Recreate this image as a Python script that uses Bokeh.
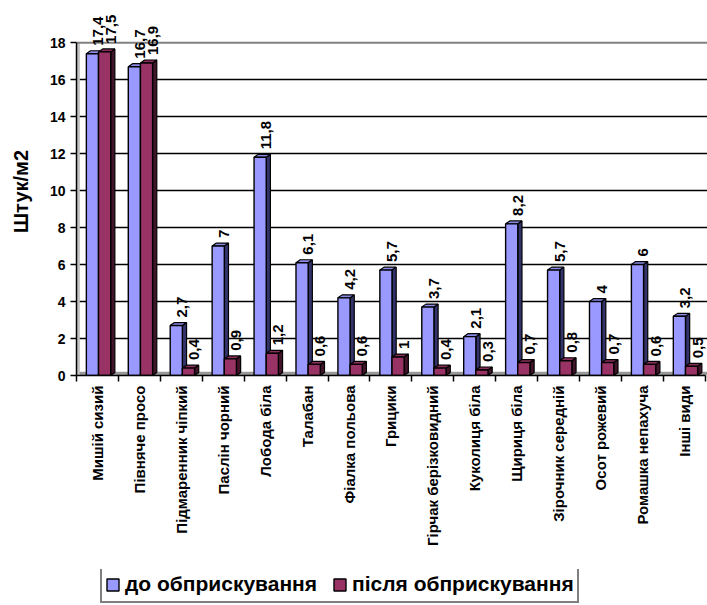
from math import pi
from bokeh.plotting import figure
from bokeh.layouts import column
from bokeh.core.properties import value
from bokeh.models import (ColumnDataSource, FixedTicker, LabelSet, Legend, LegendItem,
                          Span, BoxAnnotation, Range1d)
from bokeh.embed import file_html
from bokeh.resources import INLINE

categories = ["Мишій сизий", "Півняче просо", "Підмаренник чіпкий", "Паслін чорний",
              "Лобода біла", "Талабан", "Фіалка польова", "Грицики",
              "Гірчак берізковидний", "Куколиця біла", "Щириця біла",
              "Зірочник середній", "Осот рожевий", "Ромашка непахуча", "Інші види"]
before = [17.4, 16.7, 2.7, 7, 11.8, 6.1, 4.2, 5.7, 3.7, 2.1, 8.2, 5.7, 4, 6, 3.2]
after = [17.5, 16.9, 0.4, 0.9, 1.2, 0.6, 0.6, 1, 0.4, 0.3, 0.7, 0.8, 0.7, 0.6, 0.5]
series_names = ["до обприскування", "після обприскування"]
y_ticks = [0, 2, 4, 6, 8, 10, 12, 14, 16, 18]
y_label = "Штук/м2"

FONT = "Liberation Sans"
front_colors = ["#9999FF", "#993366"]
side_colors = ["#33336b", "#421429"]
top_colors = ["#8a8ae6", "#8a2e5c"]
offsets = [-0.12, 0.17]
BW = 0.29
DX, DY = 0.1, 0.16
LEFT = 76

n = len(categories)
ymax = y_ticks[-1]
p = figure(width=707, height=569, x_range=Range1d(-0.5, n - 0.45),
           y_range=Range1d(0, ymax + 1.9),
           output_backend="svg", toolbar_location=None,
           min_border_left=LEFT, min_border_right=0, min_border_top=7, min_border_bottom=194)
p.outline_line_color = None
p.background_fill_color = "white"
p.border_fill_color = "white"

# walls
p.add_layout(BoxAnnotation(bottom=0, top=0.2, fill_color="#999999", fill_alpha=1, line_color=None, level="underlay"))
p.add_layout(BoxAnnotation(left=-0.5, right=-0.42, bottom=0, top=ymax, fill_color="#c0c0c0",
                           fill_alpha=1, line_color=None, level="underlay"))
p.add_layout(Span(location=ymax, dimension="width", line_color="#808080", line_width=2, level="underlay"))

sources = []
for k, vals in enumerate([before, after]):
    xs = [i + offsets[k] for i in range(n)]
    side_x, side_y, top_x, top_y = [], [], [], []
    for x, v in zip(xs, vals):
        r = x + BW / 2
        l = x - BW / 2
        side_x.append([r, r + DX, r + DX, r])
        side_y.append([0, DY, v + DY, v])
        top_x.append([l, l + DX, r + DX, r])
        top_y.append([v, v + DY, v + DY, v])
    p.patches(side_x, side_y, fill_color=side_colors[k], line_color="black", line_width=1.2)
    p.patches(top_x, top_y, fill_color=top_colors[k], line_color="black", line_width=1.2)
    src = ColumnDataSource(dict(x=xs, top=vals,
                                lab=[("%g" % v).replace(".", ",") for v in vals]))
    sources.append(src)
    p.vbar(x="x", top="top", width=BW, bottom=0, source=src,
           fill_color=front_colors[k], line_color="black", line_width=1.4)
    p.add_layout(LabelSet(x="x", y="top", text="lab", source=src, angle=pi / 2,
                          text_align="left", text_baseline="middle", x_offset=6, y_offset=8,
                          text_font=value(FONT), text_font_style="bold", text_font_size="15px",
                          text_color="black"))

# grid
p.xgrid.grid_line_color = None
p.ygrid.ticker = FixedTicker(ticks=y_ticks[1:-1])
p.ygrid.grid_line_color = "black"
p.ygrid.grid_line_width = 1.5

# y axis
p.yaxis.ticker = FixedTicker(ticks=y_ticks)
p.yaxis.bounds = (0, ymax)
p.yaxis.axis_label = y_label
p.yaxis.axis_label_text_font = FONT
p.yaxis.axis_label_text_font_style = "bold"
p.yaxis.axis_label_text_font_size = "20px"
p.yaxis.axis_label_text_color = "black"
p.yaxis.axis_label_standoff = 15
p.yaxis.major_label_text_font = FONT
p.yaxis.major_label_text_font_style = "bold"
p.yaxis.major_label_text_font_size = "14px"
p.yaxis.major_label_text_color = "black"
p.yaxis.axis_line_color = "black"
p.yaxis.axis_line_width = 1.5
p.yaxis.major_tick_line_color = "black"
p.yaxis.major_tick_line_width = 1.5
p.yaxis.major_tick_in = 0
p.yaxis.major_tick_out = 6
p.yaxis.minor_tick_line_color = None

# x axis
p.xaxis.ticker = FixedTicker(ticks=list(range(n)), minor_ticks=[i - 0.5 for i in range(n + 1)])
p.xaxis.bounds = (-0.5, n - 0.5)
p.xaxis.major_label_overrides = {i: c for i, c in enumerate(categories)}
p.xaxis.major_label_orientation = pi / 2
p.xaxis.major_label_text_font = FONT
p.xaxis.major_label_text_font_style = "bold"
p.xaxis.major_label_text_font_size = "15px"
p.xaxis.major_label_text_color = "black"
p.xaxis.major_label_standoff = 4
p.xaxis.major_tick_line_color = None
p.xaxis.minor_tick_line_color = "black"
p.xaxis.minor_tick_line_width = 1.5
p.xaxis.minor_tick_in = 0
p.xaxis.minor_tick_out = 6
p.xaxis.axis_line_color = "black"
p.xaxis.axis_line_width = 1.5

# legend strip below the chart
p2 = figure(width=707, height=36, x_range=Range1d(0, 1), y_range=Range1d(0, 1),
            x_axis_location=None, y_axis_location=None, toolbar_location=None,
            output_backend="svg", min_border_left=LEFT, min_border_right=0,
            min_border_top=0, min_border_bottom=0)
p2.outline_line_color = None
p2.grid.visible = False
items = []
for k, src in enumerate(sources):
    rr = p2.vbar(x="x", top="top", width=BW, bottom=0, source=src,
                 fill_color=front_colors[k], line_color="black", line_width=1.4, visible=False)
    items.append(LegendItem(label=series_names[k], renderers=[rr]))
legend = Legend(items=items, orientation="horizontal", location=(24, 2),
                label_text_font=FONT, label_text_font_style="bold", label_text_font_size="21px",
                label_text_color="black", glyph_width=15, glyph_height=15, label_standoff=5,
                label_height=28, spacing=15, padding=3, margin=0,
                border_line_color="black", border_line_width=2,
                background_fill_alpha=1, inactive_fill_alpha=0)
p2.add_layout(legend, "center")

layout = column(p, p2, spacing=0)
open("out.html", "w").write(file_html(layout, INLINE))
